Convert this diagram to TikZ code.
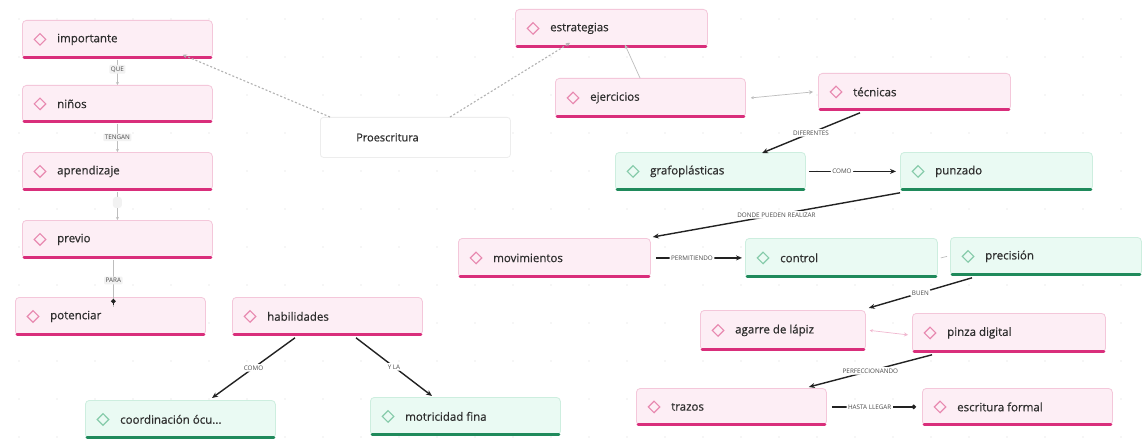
\documentclass[tikz,border=0pt]{standalone}
\usepackage{fontspec}
\setmainfont{Open Sans}
\newfontfamily\semifont{Open Sans}[FakeBold=0.6]
\usetikzlibrary{shapes.geometric,arrows.meta}
\definecolor{pkfill}{HTML}{FDEEF5}
\definecolor{pkline}{HTML}{F4C7DA}
\definecolor{pkbarc}{HTML}{D92E7B}
\definecolor{pkdiac}{HTML}{E889B0}
\definecolor{grfill}{HTML}{EAFAF3}
\definecolor{grline}{HTML}{CDEEDF}
\definecolor{grbarc}{HTML}{1F8A5B}
\definecolor{grdiac}{HTML}{86CBAA}
\definecolor{txtc}{HTML}{2E2E2E}
\definecolor{lnk}{HTML}{222222}
\definecolor{faint}{HTML}{BDBDBD}
\definecolor{gridc}{HTML}{EDEDED}
\tikzset{
  pkbox/.style={draw=pkline, fill=pkfill, rounded corners=4pt, line width=0.8pt, inner sep=0pt},
  grbox/.style={draw=grline, fill=grfill, rounded corners=4pt, line width=0.8pt, inner sep=0pt},
  plbox/.style={draw=black!7, fill=white, rounded corners=3pt, line width=0.8pt, inner sep=0pt},
  pkbar/.style={draw=pkbarc, line width=3pt, line cap=round},
  grbar/.style={draw=grbarc, line width=3pt, line cap=round},
  pkdia/.style={diamond, draw=pkdiac, line width=1.2pt, minimum size=12pt, inner sep=0pt},
  grdia/.style={diamond, draw=grdiac, line width=1.2pt, minimum size=12pt, inner sep=0pt},
  lbl/.style={font=\semifont\fontsize{11.5}{14}\selectfont, text=txtc, inner sep=0pt},
  tag/.style={font=\fontsize{6.3}{7}\selectfont, text=black!70, fill=white, inner sep=1.5pt, rounded corners=1pt},
  gtag/.style={tag, fill=black!5},
  link/.style={draw=lnk, line width=1.4pt, -{Stealth[length=6pt,width=5pt]}},
  dotlink/.style={draw=lnk, line width=1.4pt, -{Circle[length=4.5pt]}},
  thinln/.style={draw=faint, line width=0.7pt},
  dashln/.style={draw=black!30, line width=1.1pt, dash pattern=on 2pt off 2pt},
}
\newcommand\mmnode[7]{%
  \node[#2box, minimum width=#5pt, minimum height=#6pt, anchor=north west] (#1) at (#3,#4) {};
  \draw[#2bar] ([xshift=2pt,yshift=1.6pt]#1.south west) -- ([xshift=-2pt,yshift=1.6pt]#1.south east);
  \node[#2dia] (#1d) at ([xshift=18pt]#1.west) {};
  \node[lbl, anchor=west] (#1t) at ([xshift=35pt]#1.west) {#7};
}
\begin{document}
\begin{tikzpicture}[x=1pt,y=-1pt]
\useasboundingbox[fill=white] (0,0) rectangle (1142,441);
% faint dot grid
\foreach \gx in {0,38,...,1140} {\foreach \gy in {19,57,...,440} {\fill[gridc] (\gx+19,\gy) circle (0.9pt);}}

% left column
\mmnode{imp}{pk}{22}{20}{190}{38}{importante}
\mmnode{nin}{pk}{22}{85}{190}{37}{niños}
\mmnode{apr}{pk}{22}{152}{190}{38}{aprendizaje}
\mmnode{pre}{pk}{22}{220}{190}{38}{previo}
\mmnode{pot}{pk}{15}{297}{190}{38}{potenciar}
\mmnode{hab}{pk}{232}{297}{190}{38}{habilidades}
\mmnode{coo}{gr}{85}{400}{190}{38}{coordinación ócu...}
\mmnode{mot}{gr}{370}{397}{190}{38}{motricidad fina}

% centre
\node[plbox, minimum width=190pt, minimum height=40pt, anchor=north west] (pro) at (320,117) {};
\node[lbl, anchor=west] (prot) at ([xshift=36pt]pro.west) {\fontsize{11}{13}\selectfont Proescritura};

% right part
\mmnode{est}{pk}{515}{9}{192}{38}{estrategias}
\mmnode{eje}{pk}{555}{78}{190}{39}{ejercicios}
\mmnode{tec}{pk}{818}{73}{192}{37}{técnicas}
\mmnode{gra}{gr}{615}{152}{190}{38}{grafoplásticas}
\mmnode{pun}{gr}{900}{152}{192}{38}{punzado}
\mmnode{mov}{pk}{458}{238}{192}{39}{movimientos}
\mmnode{con}{gr}{745}{238}{192}{39}{control}
\mmnode{prec}{gr}{950}{237}{191}{38}{precisión}
\mmnode{aga}{pk}{700}{310}{165}{40}{agarre de lápiz}
\mmnode{pin}{pk}{912}{313}{193}{39}{pinza digital}
\mmnode{tra}{pk}{636}{388}{190}{37}{trazos}
\mmnode{esc}{pk}{922}{388}{190}{37}{escritura formal}

% left column connectors
\draw[thinln, -{Stealth[length=3pt,width=3pt]}, shorten <=1pt] (imp.south) -- node[gtag, pos=0.4]{QUE} (nin.north);
\draw[thinln, -{Stealth[length=3pt,width=3pt]}, shorten <=1pt] (nin.south) -- node[gtag, pos=0.5]{TENGAN} (apr.north);
\draw[thinln, -{Stealth[length=3pt,width=3pt]}, shorten <=1pt] (apr.south) -- node[fill=black!5, rounded corners=3pt, minimum width=9pt, minimum height=11pt, inner sep=0pt, pos=0.4]{} (pre.north);
\draw[thinln, shorten <=1pt] ([xshift=-4pt]pre.south) -- node[gtag, pos=0.45]{PARA} ([xshift=3pt,yshift=-10pt]pot.north);
\draw[dotlink, line width=0.8pt] ([xshift=3pt,yshift=-8pt]pot.north) -- ([xshift=3pt,yshift=-2pt]pot.north);

% Proescritura dashed links
\draw[dashln, -{Stealth[length=4pt,width=4pt]}] ([xshift=10pt]pro.north west) -- ([xshift=-30pt,yshift=4pt]imp.south east);
\draw[dashln, -{Stealth[length=4pt,width=4pt]}] ([xshift=130pt]pro.north west) -- ([xshift=55pt,yshift=5pt]est.south west);

% grey thin links
\draw[thinln, -{Stealth[length=4pt,width=4pt]}] ([xshift=85pt]eje.north west) -- ([xshift=110pt,yshift=3pt]est.south west);
\draw[thinln, {Stealth[length=3pt,width=3pt]}-{Stealth[length=4pt,width=4pt]}] ([xshift=5pt]eje.east) -- ([xshift=-5pt]tec.west);
\draw[thinln] ([xshift=3pt]con.east) -- ([xshift=-3pt]prec.west);
\draw[thinln, draw=pkdiac!60, {Stealth[length=3pt,width=3pt]}-{Stealth[length=4pt,width=4pt]}] ([xshift=4pt]aga.east) -- ([xshift=-4pt,yshift=-2pt]pin.west);

% black links
\draw[link] ([xshift=42pt,yshift=-2pt]tec.south west) -- node[tag]{DIFERENTES} ([xshift=147pt,yshift=-1pt]gra.north west);
\draw[link] ([xshift=3pt]gra.east) -- node[tag, pos=0.38]{COMO} ([xshift=-4pt]pun.west);
\draw[link] ([yshift=-2pt]pun.south west) -- node[tag]{DONDE PUEDEN REALIZAR} ([xshift=2pt,yshift=1pt]mov.north east);
\draw[link] ([xshift=5pt]mov.east) -- node[tag, pos=0.42]{PERMITIENDO} ([xshift=-3pt]con.west);
\draw[link] ([xshift=22pt,yshift=-2pt]prec.south west) -- node[tag]{BUEN} ([xshift=3pt,yshift=2pt]aga.north east);
\draw[link] ([xshift=20pt,yshift=-2pt]pin.south west) -- node[tag]{PERFECCIONANDO} ([xshift=-18pt,yshift=1pt]tra.north east);
\draw[dotlink] ([xshift=5pt]tra.east) -- node[tag, pos=0.45]{HASTA LLEGAR} ([xshift=-6pt]esc.west);
\draw[link] ([xshift=63pt,yshift=-2pt]hab.south west) -- node[tag]{COMO} ([xshift=127pt,yshift=2pt]coo.north west);
\draw[link] ([xshift=124pt,yshift=-2pt]hab.south west) -- node[tag]{Y LA} ([xshift=62pt,yshift=1pt]mot.north west);
\end{tikzpicture}
\end{document}
